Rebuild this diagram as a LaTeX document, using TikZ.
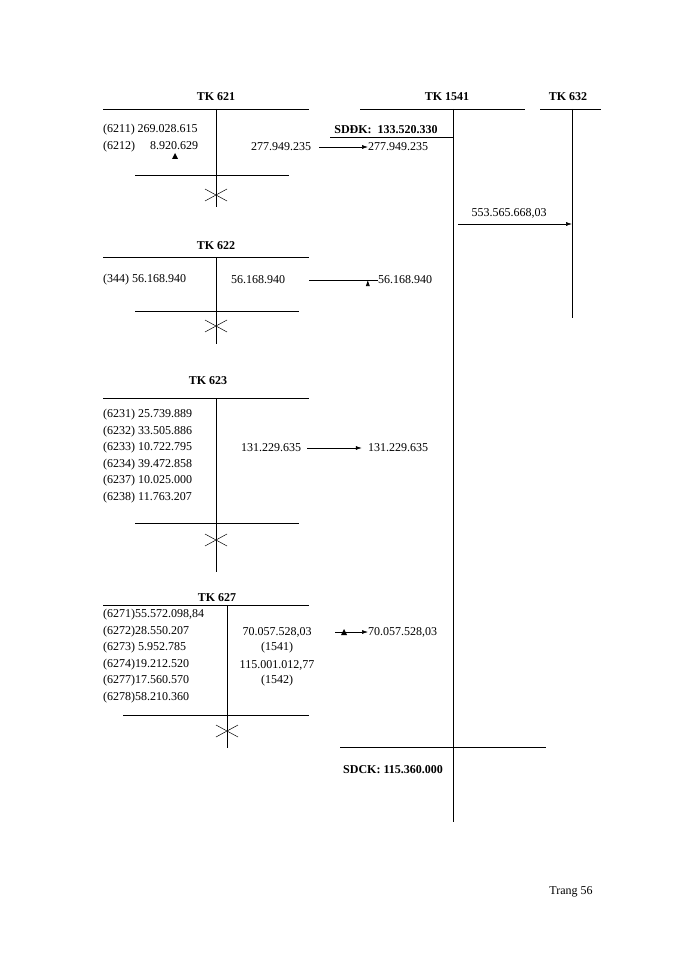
\documentclass[tikz,border=0pt]{standalone}
\usepackage{fontspec}
\setmainfont{Liberation Serif}
\usetikzlibrary{arrows.meta}
\begin{document}
\begin{tikzpicture}[x=1pt,y=-1pt,
  txt/.style={font=\fontsize{12}{14}\selectfont,inner sep=0pt},
  ttl/.style={font=\fontsize{12}{14}\selectfont\bfseries,inner sep=0pt},
  ln/.style={line width=0.6pt},
  arr/.style={line width=0.6pt,-{Latex[length=6pt,width=4pt]}},
  xm/.style={line width=0.5pt}]
\fill[white] (0,0) rectangle (700,960);
% TK 621
\node[ttl] (t621) at (216,97) {TK 621};
\draw[ln] (103,109) -- (309,109);
\draw[ln] (216,109) -- (216,207);
\draw[ln] (135,175) -- (289,175);
\draw[xm] (205,189) -- (227,201) (205,201) -- (227,189);
\node[txt,anchor=west] (a1) at (103,130) {(6211) 269.028.615};
\node[txt,anchor=west] (a2) at (103,147) {(6212)\hspace{15pt}8.920.629};
\node[txt] (a3) at (281,147) {277.949.235};
\fill (172,159) -- (178,159) -- (175,153) -- cycle;
% TK 1541
\node[ttl] (t1541) at (447,97) {TK 1541};
\draw[ln] (360,109) -- (525,109);
\draw[ln] (453,109) -- (453,822);
\node[ttl] (sd) at (386,130) {SDĐK:\ \ 133.520.330};
\draw[ln] (330,137) -- (453,137);
\node[txt,anchor=west] (b1) at (368,147) {277.949.235};
\draw[arr] (a3.east) ++(8,0) -- (b1.west);
% TK 632
\node[ttl] (t632) at (568,97) {TK 632};
\draw[ln] (540,109) -- (601,109);
\draw[ln] (572,109) -- (572,318);
\node[txt] (c1) at (509,213) {553.565.668,03};
\coordinate (c0) at (458,224);
\coordinate (c2) at (572,224);
\draw[arr] (c0) -- (c2);
% TK 622
\node[ttl] (t622) at (216,246) {TK 622};
\draw[ln] (103,257) -- (309,257);
\draw[ln] (216,257) -- (216,344);
\draw[ln] (135,311) -- (299,311);
\draw[xm] (205,320) -- (227,332) (205,332) -- (227,320);
\node[txt,anchor=west] (d1) at (103,280) {(344) 56.168.940};
\node[txt] (d2) at (258,280) {56.168.940};
\node[txt] (d3) at (405,280) {56.168.940};
\draw[arr] (309,280) -- (d3.west) ++(-10,0);
% TK 623
\node[ttl] (t623) at (208,381) {TK 623};
\draw[ln] (103,398) -- (309,398);
\draw[ln] (216,398) -- (216,572);
\draw[ln] (135,523) -- (299,523);
\draw[xm] (205,534) -- (227,546) (205,546) -- (227,534);
\node[txt,anchor=west] (e1) at (103,415) {(6231) 25.739.889};
\node[txt,anchor=west] (e2) at (103,432) {(6232) 33.505.886};
\node[txt,anchor=west] (e3) at (103,448) {(6233) 10.722.795};
\node[txt,anchor=west] (e4) at (103,465) {(6234) 39.472.858};
\node[txt,anchor=west] (e5) at (103,481) {(6237) 10.025.000};
\node[txt,anchor=west] (e6) at (103,498) {(6238) 11.763.207};
\node[txt] (e7) at (271,448) {131.229.635};
\node[txt] (e8) at (398,448) {131.229.635};
\draw[arr] (e7.east) ++(6,0) -- ([xshift=-6pt]e8.west);
% TK 627
\node[ttl] (t627) at (217,598) {TK 627};
\draw[ln] (103,605) -- (309,605);
\draw[ln] (227,605) -- (227,748);
\draw[ln] (123,715) -- (309,715);
\draw[xm] (216,725) -- (238,737) (216,737) -- (238,725);
\node[txt,anchor=west] (f1) at (103,615) {(6271)55.572.098,84};
\node[txt,anchor=west] (f2) at (103,632) {(6272)28.550.207};
\node[txt,anchor=west] (f3) at (103,648) {(6273) 5.952.785};
\node[txt,anchor=west] (f4) at (103,665) {(6274)19.212.520};
\node[txt,anchor=west] (f5) at (103,681) {(6277)17.560.570};
\node[txt,anchor=west] (f6) at (103,698) {(6278)58.210.360};
\node[txt] (g1) at (277,632) {70.057.528,03};
\node[txt] (g2) at (277,648) {(1541)};
\node[txt] (g3) at (277,665) {115.001.012,77};
\node[txt] (g4) at (277,681) {(1542)};
\node[txt,anchor=west] (g5) at (368,632) {70.057.528,03};
\draw[arr] (335,632) -- (g5.west);
\fill (341,635) -- (347,635) -- (344,629) -- cycle;
% SDCK
\draw[ln] (340,747) -- (546,747);
\node[ttl] (sdck) at (393,770) {SDCK: 115.360.000};
\node[txt] (pg) at (571,892) {Trang 56};
\end{tikzpicture}
\end{document}
